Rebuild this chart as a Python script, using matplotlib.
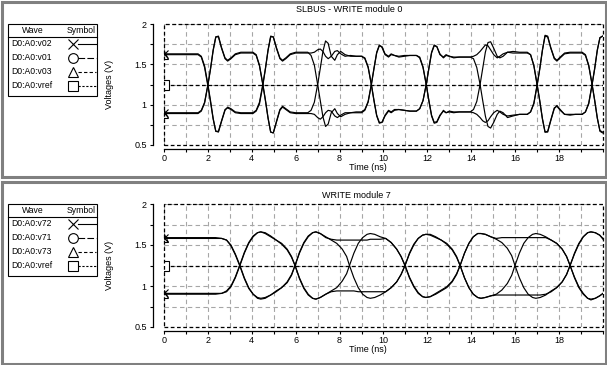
"""Two scope captures (SLBUS write module 0 / module 7) with eye-style traces."""
import matplotlib
matplotlib.use("Agg")
import matplotlib.pyplot as plt
from matplotlib.patches import Rectangle
from matplotlib.ticker import MultipleLocator

plt.rcParams["font.family"] = ["Liberation Sans", "DejaVu Sans"]

vref = 1.25
x_ticks = [0, 2, 4, 6, 8, 10, 12, 14, 16, 18]
y_ticks = [0.5, 1, 1.5, 2]
y_tick_labels = ["0.5", "1", "1.5", "2"]

# top panel: SLBUS - WRITE module 0
t_top = [0.0, 0.5, 1.0,
         1.55, 1.7, 1.85, 2.0, 2.12, 2.24, 2.36, 2.48, 2.62, 2.78, 2.9, 3.05, 3.25, 3.5, 3.8,
         4.05, 4.2, 4.35, 4.5, 4.62, 4.74, 4.86, 4.98, 5.12, 5.28, 5.4, 5.55, 5.75, 6.0, 6.3,
         6.55, 6.7, 6.85, 7.0, 7.12, 7.24, 7.36, 7.48, 7.62, 7.78, 7.9, 8.05, 8.25, 8.5, 8.75,
         9.0, 9.15, 9.3, 9.45, 9.57, 9.69, 9.81, 9.93, 10.07, 10.23, 10.35, 10.5, 10.7, 10.95, 11.2,
         11.5, 11.65, 11.8, 11.95, 12.07, 12.19, 12.31, 12.43, 12.57, 12.73, 12.85, 13.0, 13.2, 13.45, 13.7,
         13.95, 14.1, 14.25, 14.4, 14.52, 14.64, 14.76, 14.88, 15.02, 15.18, 15.3, 15.45, 15.65, 15.9, 16.2,
         16.55, 16.7, 16.85, 17.0, 17.12, 17.24, 17.36, 17.48, 17.62, 17.78, 17.9, 18.05, 18.25, 18.5, 18.75,
         19.05, 19.2, 19.35, 19.5, 19.62, 19.74, 19.86, 19.98, 20.0]
top_a = [1.63, 1.63, 1.63,
         1.63, 1.60, 1.48, 1.25, 1.05, 0.83, 0.67, 0.66, 0.79, 0.93, 0.97, 0.95, 0.91, 0.90, 0.90,
         0.90, 0.93, 1.03, 1.25, 1.45, 1.68, 1.85, 1.84, 1.70, 1.57, 1.54, 1.57, 1.62, 1.64, 1.64,
         1.64, 1.64, 1.65, 1.68, 1.69, 1.66, 1.60, 1.57, 1.60, 1.66, 1.67, 1.63, 1.60, 1.61, 1.60,
         1.60, 1.58, 1.47, 1.25, 1.05, 0.87, 0.78, 0.78, 0.86, 0.92, 0.90, 0.93, 0.94, 0.93, 0.92,
         0.92, 0.95, 1.05, 1.25, 1.45, 1.64, 1.73, 1.72, 1.63, 1.58, 1.61, 1.60, 1.59, 1.59, 1.59,
         1.59, 1.60, 1.62, 1.66, 1.70, 1.74, 1.73, 1.68, 1.62, 1.58, 1.60, 1.63, 1.65, 1.64, 1.64,
         1.64, 1.62, 1.49, 1.25, 1.05, 0.83, 0.66, 0.66, 0.80, 0.95, 0.99, 0.94, 0.88, 0.87, 0.88,
         0.88, 0.91, 1.02, 1.25, 1.45, 1.68, 1.83, 1.85, 1.85]
top_b = [1.62, 1.62, 1.62,
         1.62, 1.59, 1.46, 1.23, 1.03, 0.82, 0.67, 0.67, 0.80, 0.94, 0.96, 0.94, 0.90, 0.89, 0.89,
         0.89, 0.92, 1.01, 1.23, 1.44, 1.67, 1.84, 1.84, 1.71, 1.58, 1.55, 1.58, 1.63, 1.65, 1.65,
         1.65, 1.61, 1.49, 1.25, 1.05, 0.85, 0.73, 0.76, 0.90, 0.95, 0.89, 0.85, 0.88, 0.90, 0.90,
         0.90, 0.93, 1.03, 1.25, 1.45, 1.64, 1.73, 1.72, 1.63, 1.60, 1.63, 1.61, 1.59, 1.60, 1.61,
         1.61, 1.58, 1.46, 1.24, 1.04, 0.86, 0.77, 0.78, 0.86, 0.93, 0.90, 0.91, 0.90, 0.91, 0.91,
         0.91, 0.94, 1.04, 1.25, 1.45, 1.65, 1.77, 1.78, 1.70, 1.60, 1.58, 1.60, 1.65, 1.66, 1.65,
         1.65, 1.62, 1.48, 1.24, 1.04, 0.82, 0.66, 0.67, 0.81, 0.96, 0.98, 0.93, 0.88, 0.88, 0.88,
         0.88, 0.91, 1.01, 1.24, 1.44, 1.67, 1.83, 1.85, 1.85]
top_c = [0.90, 0.90, 0.90,
         0.90, 0.93, 1.03, 1.25, 1.45, 1.68, 1.84, 1.84, 1.70, 1.57, 1.54, 1.57, 1.62, 1.64, 1.64,
         1.64, 1.61, 1.48, 1.25, 1.05, 0.83, 0.66, 0.65, 0.79, 0.94, 0.98, 0.95, 0.91, 0.90, 0.90,
         0.90, 0.93, 1.03, 1.25, 1.45, 1.66, 1.79, 1.76, 1.60, 1.55, 1.62, 1.66, 1.62, 1.60, 1.60,
         1.60, 1.57, 1.46, 1.24, 1.04, 0.86, 0.77, 0.78, 0.87, 0.93, 0.91, 0.94, 0.94, 0.93, 0.92,
         0.92, 0.95, 1.05, 1.26, 1.46, 1.65, 1.74, 1.72, 1.62, 1.59, 1.62, 1.60, 1.58, 1.59, 1.59,
         1.59, 1.57, 1.46, 1.25, 1.05, 0.86, 0.73, 0.71, 0.78, 0.88, 0.92, 0.90, 0.84, 0.86, 0.88,
         0.88, 0.91, 1.02, 1.25, 1.45, 1.68, 1.85, 1.84, 1.70, 1.57, 1.54, 1.58, 1.63, 1.64, 1.64,
         1.64, 1.61, 1.48, 1.25, 1.05, 0.83, 0.68, 0.66, 0.66]
top_d = [0.89, 0.89, 0.89,
         0.89, 0.92, 1.02, 1.24, 1.44, 1.67, 1.84, 1.85, 1.71, 1.58, 1.55, 1.58, 1.63, 1.65, 1.65,
         1.65, 1.62, 1.49, 1.26, 1.06, 0.84, 0.66, 0.65, 0.78, 0.93, 0.97, 0.94, 0.90, 0.89, 0.89,
         0.89, 0.89, 0.88, 0.84, 0.82, 0.85, 0.90, 0.93, 0.92, 0.86, 0.84, 0.87, 0.90, 0.90, 0.91,
         0.91, 0.94, 1.04, 1.26, 1.46, 1.65, 1.74, 1.71, 1.62, 1.59, 1.62, 1.61, 1.60, 1.61, 1.61,
         1.61, 1.59, 1.47, 1.25, 1.05, 0.87, 0.78, 0.79, 0.87, 0.92, 0.90, 0.92, 0.91, 0.91, 0.91,
         0.91, 0.90, 0.88, 0.84, 0.80, 0.78, 0.80, 0.85, 0.90, 0.93, 0.91, 0.88, 0.86, 0.87, 0.88,
         0.88, 0.91, 1.01, 1.24, 1.44, 1.67, 1.86, 1.85, 1.71, 1.58, 1.55, 1.59, 1.64, 1.65, 1.65,
         1.65, 1.62, 1.49, 1.26, 1.06, 0.84, 0.67, 0.65, 0.65]

# bottom panel: WRITE module 7
t_bot = [0.0, 0.5, 1.0, 1.5, 2.0, 2.35, 2.63, 2.85, 3.05, 3.25,
         3.46, 3.66, 3.86, 4.06, 4.26, 4.41, 4.61, 4.86, 5.11, 5.36, 5.61, 5.81,
         5.97, 6.17, 6.37, 6.57, 6.77, 6.92, 7.12, 7.37, 7.62, 7.87, 8.12, 8.32,
         8.45, 8.65, 8.85, 9.05, 9.25, 9.4, 9.6, 9.85, 10.1, 10.35, 10.6, 10.8,
         10.98, 11.18, 11.38, 11.58, 11.78, 11.93, 12.13, 12.38, 12.63, 12.88, 13.13, 13.33,
         13.49, 13.69, 13.89, 14.09, 14.29, 14.44, 14.64, 14.89, 15.14, 15.39, 15.64, 15.84,
         15.99, 16.19, 16.39, 16.59, 16.79, 16.94, 17.14, 17.39, 17.64, 17.89, 18.14, 18.34,
         18.5, 18.7, 18.9, 19.1, 19.3, 19.45, 19.65, 19.85, 20.0]
bot_a = [1.58, 1.58, 1.58, 1.58, 1.58, 1.58, 1.58, 1.56, 1.50, 1.39,
         1.25, 1.10, 0.98, 0.90, 0.85, 0.84, 0.85, 0.89, 0.94, 0.98, 1.05, 1.14,
         1.25, 1.40, 1.52, 1.60, 1.65, 1.66, 1.64, 1.59, 1.57, 1.56, 1.56, 1.56,
         1.56, 1.56, 1.56, 1.56, 1.56, 1.57, 1.57, 1.57, 1.58, 1.53, 1.45, 1.36,
         1.25, 1.10, 0.99, 0.91, 0.87, 0.86, 0.87, 0.90, 0.94, 0.98, 1.05, 1.14,
         1.25, 1.40, 1.52, 1.60, 1.64, 1.64, 1.63, 1.60, 1.58, 1.59, 1.59, 1.59,
         1.59, 1.59, 1.59, 1.59, 1.59, 1.59, 1.59, 1.59, 1.56, 1.52, 1.45, 1.36,
         1.25, 1.10, 0.98, 0.90, 0.85, 0.84, 0.85, 0.88, 0.91]
bot_b = [1.59, 1.59, 1.59, 1.59, 1.59, 1.59, 1.58, 1.56, 1.49, 1.38,
         1.24, 1.09, 0.97, 0.90, 0.86, 0.85, 0.86, 0.89, 0.93, 0.98, 1.04, 1.13,
         1.25, 1.41, 1.53, 1.61, 1.65, 1.66, 1.64, 1.60, 1.56, 1.52, 1.45, 1.36,
         1.25, 1.10, 0.98, 0.90, 0.86, 0.85, 0.86, 0.89, 0.93, 0.98, 1.05, 1.14,
         1.25, 1.40, 1.51, 1.58, 1.62, 1.63, 1.62, 1.59, 1.56, 1.52, 1.45, 1.36,
         1.25, 1.10, 0.98, 0.90, 0.86, 0.85, 0.86, 0.88, 0.90, 0.95, 1.03, 1.13,
         1.25, 1.40, 1.52, 1.59, 1.63, 1.64, 1.63, 1.60, 1.56, 1.52, 1.45, 1.36,
         1.25, 1.11, 0.99, 0.91, 0.85, 0.83, 0.85, 0.88, 0.91]
bot_c = [0.91, 0.91, 0.91, 0.91, 0.91, 0.91, 0.91, 0.93, 0.99, 1.10,
         1.25, 1.40, 1.52, 1.60, 1.65, 1.66, 1.65, 1.61, 1.56, 1.52, 1.45, 1.36,
         1.25, 1.10, 0.98, 0.90, 0.85, 0.84, 0.86, 0.90, 0.94, 0.98, 1.06, 1.15,
         1.25, 1.40, 1.52, 1.59, 1.63, 1.64, 1.63, 1.60, 1.58, 1.53, 1.45, 1.36,
         1.25, 1.11, 1.00, 0.92, 0.87, 0.86, 0.87, 0.91, 0.95, 0.99, 1.06, 1.15,
         1.25, 1.40, 1.52, 1.60, 1.64, 1.64, 1.63, 1.60, 1.57, 1.53, 1.46, 1.37,
         1.25, 1.10, 0.98, 0.90, 0.86, 0.85, 0.86, 0.89, 0.94, 0.98, 1.05, 1.14,
         1.25, 1.40, 1.52, 1.60, 1.65, 1.66, 1.65, 1.62, 1.58]
bot_d = [0.90, 0.90, 0.90, 0.90, 0.90, 0.90, 0.91, 0.94, 1.00, 1.11,
         1.26, 1.41, 1.53, 1.61, 1.65, 1.66, 1.64, 1.60, 1.56, 1.51, 1.44, 1.35,
         1.25, 1.09, 0.97, 0.89, 0.85, 0.84, 0.86, 0.90, 0.93, 0.94, 0.94, 0.94,
         0.94, 0.94, 0.93, 0.93, 0.93, 0.93, 0.93, 0.93, 0.93, 0.98, 1.05, 1.14,
         1.25, 1.39, 1.50, 1.58, 1.62, 1.63, 1.63, 1.60, 1.56, 1.51, 1.44, 1.35,
         1.25, 1.10, 0.98, 0.90, 0.86, 0.85, 0.86, 0.88, 0.89, 0.89, 0.89, 0.89,
         0.89, 0.89, 0.89, 0.89, 0.89, 0.89, 0.89, 0.90, 0.93, 0.98, 1.05, 1.14,
         1.25, 1.39, 1.51, 1.60, 1.65, 1.66, 1.65, 1.62, 1.57]

top_waves = ["D0:A0:v02", "D0:A0:v01", "D0:A0:v03", "D0:A0:vref"]
bot_waves = ["D0:A0:v72", "D0:A0:v71", "D0:A0:v73", "D0:A0:vref"]
top_title, bot_title = "SLBUS - WRITE module 0", "WRITE module 7"
top_abw, bot_abw = "ABW = 2116 MBits/sec", "ABW = 736 MBits/sec"
top_skew, bot_skew = "SKEW = 79ps", "SKEW = 12ps"

# ---------------- figure ----------------
W, H = 607, 365
FS = 6.5
fig = plt.figure(figsize=(W / 100, H / 100), dpi=100)

# overlay in pixel units for window frames, legend tables and labels
ov = fig.add_axes([0, 0, 1, 1])
ov.set_xlim(0, W)
ov.set_ylim(H, 0)
ov.axis("off")

trace_markers = ["x", "^", "x", "^"]


def draw_panel(rect_px, t, traces, title_xy, title, abw_xy, abw, skew_xy, skew):
    x0, y0, x1, y1 = rect_px
    ax = fig.add_axes([x0 / W, 1 - y1 / H, (x1 - x0) / W, (y1 - y0) / H])
    ax.set_xlim(0, 20)
    ax.set_ylim(0.5, 2)

    ax.grid(True, which="both", color="#a6a6a6", ls=(0, (4, 3)), lw=0.8)
    ax.set_axisbelow(True)
    ax.axhline(vref, color="black", ls=(0, (3, 2)), lw=0.9, zorder=2)
    ax.plot([t[0]], [vref], marker="s", ms=7, mfc="white", mec="black",
            mew=0.8, ls="none", zorder=4)

    for vals, mk in zip(traces, trace_markers):
        ax.plot(t, vals, color="black", lw=0.85, zorder=3)
        ax.plot([t[0]], [vals[0]], marker=mk, ms=6, mfc="none",
                mec="black", mew=0.8, ls="none", zorder=4)

    # dashed plot frame, solid axes pushed outward
    ax.add_patch(Rectangle((0, 0), 1, 1, transform=ax.transAxes, fill=False,
                           ls=(0, (3, 2)), lw=0.9, ec="black", zorder=5,
                           clip_on=False))
    for s in ("top", "right"):
        ax.spines[s].set_visible(False)
    ax.spines["left"].set_position(("outward", 8))
    ax.spines["bottom"].set_position(("outward", 3))
    for s in ("left", "bottom"):
        ax.spines[s].set_linewidth(0.9)

    ax.set_xticks(x_ticks)
    ax.xaxis.set_minor_locator(MultipleLocator(1))
    ax.set_yticks(y_ticks)
    ax.set_yticklabels(y_tick_labels)
    ax.yaxis.set_minor_locator(MultipleLocator(0.25))
    ax.tick_params(which="both", direction="out", length=2.5, width=0.8,
                   labelsize=FS)
    ax.tick_params(axis="x", pad=1)
    ax.tick_params(axis="y", pad=2)

    ov.text(*title_xy, title, fontsize=FS, ha="center", va="center")
    ov.text(*abw_xy, abw, fontsize=FS, ha="left", va="center", zorder=6)
    ov.text(*skew_xy, skew, fontsize=FS, ha="left", va="center", zorder=6)
    ov.text(368, y1 + 22, "Time (ns)", fontsize=FS, ha="center", va="center")
    ov.text(109, (y0 + y1) / 2, "Voltages (V)", fontsize=FS, rotation=90,
            ha="center", va="center")
    return ax


def draw_legend(oy, names):
    lfs = 6.2
    ov.add_patch(Rectangle((8, 24 + oy), 89, 72, fill=False, ec="black", lw=0.8))
    ov.plot([8, 97], [36.5 + oy, 36.5 + oy], color="black", lw=0.8)
    ov.text(33, 30.5 + oy, "Wave", fontsize=lfs, ha="center", va="center")
    ov.text(81.5, 30.5 + oy, "Symbol", fontsize=lfs, ha="center", va="center")
    rows = [44, 58, 72, 86]
    syms = ["x", "o", "^", "s"]
    styles = ["-", (0, (6, 2)), (0, (3, 2)), (0, (2, 1.5))]
    for name, ry, mk, st in zip(names, rows, syms, styles):
        ov.text(11, ry + oy, name, fontsize=lfs, ha="left", va="center")
        ov.plot([78, 96], [ry + oy, ry + oy], color="black", lw=0.8, ls=st)
        ov.plot([73], [ry + oy], marker=mk, ms=7, mfc="none", mec="black",
                mew=0.8, ls="none")


# grey window frames
ov.add_patch(Rectangle((1.5, 1.5), 604, 175, fill=False, ec="#808080", lw=2.2))
ov.add_patch(Rectangle((1.5, 181.5), 604, 182, fill=False, ec="#808080", lw=2.2))

draw_panel((164, 24, 603, 145), t_top, [top_a, top_b, top_c, top_d],
           (349, 10), top_title, (166, 32), top_abw, (167, 131), top_skew)
draw_panel((164, 204, 603, 327), t_bot, [bot_a, bot_b, bot_c, bot_d],
           (356, 195), bot_title, (169, 216), bot_abw, (169, 310), bot_skew)
draw_legend(0, top_waves)
draw_legend(180, bot_waves)

fig.savefig("out.png", dpi=100)
plt.close(fig)
